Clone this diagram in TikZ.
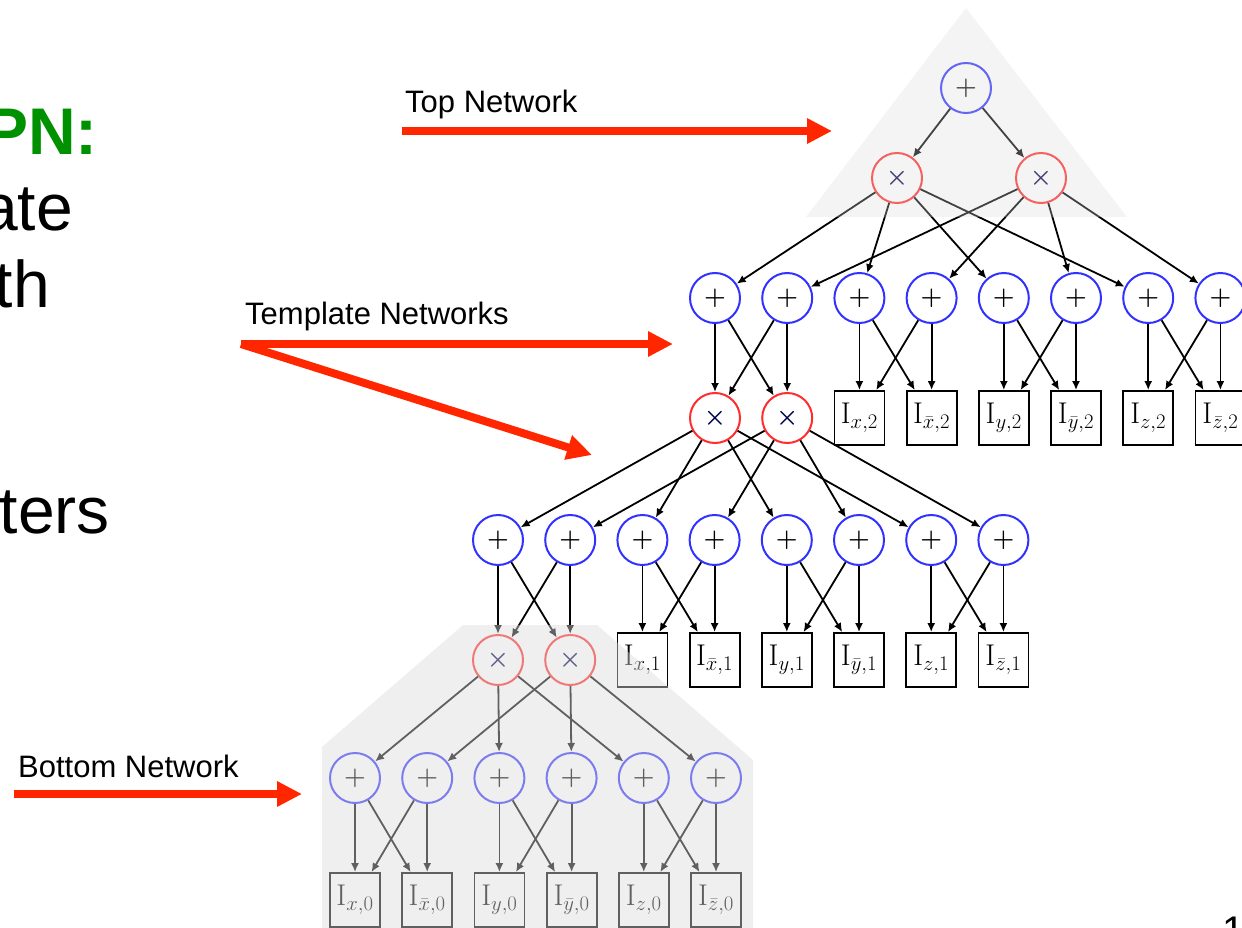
\documentclass[tikz,border=0pt]{standalone}
\usepackage{fontspec}
\newfontfamily\arialfont{Liberation Sans}
\usetikzlibrary{positioning,arrows.meta}

\definecolor{spnblue}{RGB}{50,50,255}
\definecolor{spnred}{RGB}{255,45,45}
\definecolor{arrowred}{RGB}{255,38,0}
\definecolor{spngreen}{RGB}{0,145,0}
\definecolor{shadegray}{RGB}{219,219,219}

\tikzset{myplus/.style={
  shape=circle,
  draw=spnblue,
  fill=white,
  line width=2pt,
  minimum size=50pt,
  inner sep=0pt,
  font=\fontsize{30}{32}\selectfont\boldmath,
  }
}
\tikzset{mytimes/.style={
  shape=circle,
  draw=spnred,
  fill=white,
  line width=2pt,
  minimum size=50pt,
  inner sep=0pt,
  text=black!70!blue,
  font=\fontsize{25}{27}\selectfont\boldmath,
  }
}
\tikzset{myind/.style={
  shape=rectangle,
  draw=black,
  fill=white,
  line width=1.8pt,
  minimum width=50pt,
  minimum height=54pt,
  inner sep=0pt,
  font=\fontsize{30}{32}\selectfont,
  }
}
\tikzset{myedge/.style={
  line width=1.8pt,
  -{Latex[length=9pt,width=8pt]},
  }
}
\tikzset{myarrow/.style={
  draw=arrowred,
  line width=8pt,
  -{Triangle[length=25pt,width=24pt]},
  }
}
\tikzset{mylabel/.style={
  inner sep=0pt,
  font=\arialfont\fontsize{31}{34}\selectfont,
  }
}
\tikzset{mybig/.style={
  inner sep=0pt,
  anchor=base east,
  font=\arialfont\fontsize{66}{70}\selectfont,
  }
}
\tikzset{myshade/.style={
  fill=shadegray,
  fill opacity=0.3,
  }
}

\begin{document}
\begin{tikzpicture}[x=1pt, y=-1pt, on grid, node distance=120pt and 72.2pt]
      \useasboundingbox (0,0) rectangle (1242,928);

      \node [mybig, text=spngreen, font=\arialfont\bfseries\fontsize{66}{70}\selectfont] (h0) at (98,155) {PN:};
      \node [mybig] (h1) at (73,230) {ate};
      \node [mybig] (h2) at (50,307) {th};
      \node [mybig] (h3) at (110,533) {ters};
      \node [mylabel, anchor=base west, font=\arialfont\fontsize{40}{44}\selectfont] (pg) at (1222,944) {1};

      \node [myplus] (r0) at (966,88) {$+$};
      \node [mytimes] (r1) at (897,178) {$\times$};
      \node [mytimes] (r2) at (1041,178) {$\times$};

      \node [myplus] (a1) at (715,298) {$+$};
      \node [myplus, right =of a1] (a2) {$+$};
      \node [myplus, right =of a2] (a3) {$+$};
      \node [myplus, right =of a3] (a4) {$+$};
      \node [myplus, right =of a4] (a5) {$+$};
      \node [myplus, right =of a5] (a6) {$+$};
      \node [myplus, right =of a6] (a7) {$+$};
      \node [myplus, right =of a7] (a8) {$+$};

      \node [mytimes, below =of a1] (b1) {$\times$};
      \node [mytimes, below =of a2] (b2) {$\times$};
      \node [myind, below =of a3] (c1) {$\mathrm{I}_{x,2}$};
      \node [myind, below =of a4] (c2) {$\mathrm{I}_{\bar{x},2}$};
      \node [myind, below =of a5] (c3) {$\mathrm{I}_{y,2}$};
      \node [myind, below =of a6] (c4) {$\mathrm{I}_{\bar{y},2}$};
      \node [myind, below =of a7] (c5) {$\mathrm{I}_{z,2}$};
      \node [myind, below =of a8] (c6) {$\mathrm{I}_{\bar{z},2}$};

      \node [myplus] (d1) at (498,540) {$+$};
      \node [myplus, right =of d1] (d2) {$+$};
      \node [myplus, right =of d2] (d3) {$+$};
      \node [myplus, right =of d3] (d4) {$+$};
      \node [myplus, right =of d4] (d5) {$+$};
      \node [myplus, right =of d5] (d6) {$+$};
      \node [myplus, right =of d6] (d7) {$+$};
      \node [myplus, right =of d7] (d8) {$+$};

      \node [mytimes, below =of d1] (e1) {$\times$};
      \node [mytimes, below =of d2] (e2) {$\times$};
      \node [myind, below =of d3] (f1) {$\mathrm{I}_{x,1}$};
      \node [myind, below =of d4] (f2) {$\mathrm{I}_{\bar{x},1}$};
      \node [myind, below =of d5] (f3) {$\mathrm{I}_{y,1}$};
      \node [myind, below =of d6] (f4) {$\mathrm{I}_{\bar{y},1}$};
      \node [myind, below =of d7] (f5) {$\mathrm{I}_{z,1}$};
      \node [myind, below =of d8] (f6) {$\mathrm{I}_{\bar{z},1}$};

      \node [myplus] (g1) at (355,778) {$+$};
      \node [myplus, right =of g1] (g2) {$+$};
      \node [myplus, right =of g2] (g3) {$+$};
      \node [myplus, right =of g3] (g4) {$+$};
      \node [myplus, right =of g4] (g5) {$+$};
      \node [myplus, right =of g5] (g6) {$+$};

      \node [myind, below =122pt of g1] (k1) {$\mathrm{I}_{x,0}$};
      \node [myind, below =122pt of g2] (k2) {$\mathrm{I}_{\bar{x},0}$};
      \node [myind, below =122pt of g3] (k3) {$\mathrm{I}_{y,0}$};
      \node [myind, below =122pt of g4] (k4) {$\mathrm{I}_{\bar{y},0}$};
      \node [myind, below =122pt of g5] (k5) {$\mathrm{I}_{z,0}$};
      \node [myind, below =122pt of g6] (k6) {$\mathrm{I}_{\bar{z},0}$};

      \draw [myedge] (r0) edge (r1) edge (r2);
      \draw [myedge] (r1) edge (a1) edge (a3) edge (a5) edge (a7);
      \draw [myedge] (r2) edge (a2) edge (a4) edge (a6) edge (a8);

      \draw [myedge] (a1) edge (b1) edge (b2);
      \draw [myedge] (a2) edge (b1) edge (b2);
      \draw [myedge] (a3) edge (c1) edge (c2);
      \draw [myedge] (a4) edge (c1) edge (c2);
      \draw [myedge] (a5) edge (c3) edge (c4);
      \draw [myedge] (a6) edge (c3) edge (c4);
      \draw [myedge] (a7) edge (c5) edge (c6);
      \draw [myedge] (a8) edge (c5) edge (c6);

      \draw [myedge] (b1) edge (d1) edge (d3) edge (d5) edge (d7);
      \draw [myedge] (b2) edge (d2) edge (d4) edge (d6) edge (d8);

      \draw [myedge] (d1) edge (e1) edge (e2);
      \draw [myedge] (d2) edge (e1) edge (e2);
      \draw [myedge] (d3) edge (f1) edge (f2);
      \draw [myedge] (d4) edge (f1) edge (f2);
      \draw [myedge] (d5) edge (f3) edge (f4);
      \draw [myedge] (d6) edge (f3) edge (f4);
      \draw [myedge] (d7) edge (f5) edge (f6);
      \draw [myedge] (d8) edge (f5) edge (f6);

      \draw [myedge] (e1) edge (g1) edge (g3) edge (g5);
      \draw [myedge] (e2) edge (g2) edge (g4) edge (g6);

      \draw [myedge] (g1) edge (k1) edge (k2);
      \draw [myedge] (g2) edge (k1) edge (k2);
      \draw [myedge] (g3) edge (k3) edge (k4);
      \draw [myedge] (g4) edge (k3) edge (k4);
      \draw [myedge] (g5) edge (k5) edge (k6);
      \draw [myedge] (g6) edge (k5) edge (k6);

      \fill [myshade] (966,8) -- (806,217) -- (1127,217) -- cycle;
      \fill [myshade, fill opacity=0.44] (463,625) -- (597,625) -- (753,760)
        -- (753,928) -- (322,928) -- (322,747) -- cycle;

      \node [mylabel, anchor=base west] (ltop) at (405,113) {Top Network};
      \node [mylabel, anchor=base west] (ltem) at (245,324) {Template Networks};
      \node [mylabel, anchor=base west] (lbot) at (18,777) {Bottom Network};

      \coordinate (p1) at (402,131);
      \coordinate (p2) at (832,131);
      \coordinate (p3) at (241,344);
      \coordinate (p4) at (673,344);
      \coordinate (p5) at (592,455);
      \coordinate (p6) at (14,794);
      \coordinate (p7) at (302,794);

      \draw [myarrow] (p1) -- (p2);
      \draw [myarrow] (p3) -- (p4);
      \draw [myarrow] (p3) -- (p5);
      \draw [myarrow] (p6) -- (p7);
    \end{tikzpicture}
\end{document}
